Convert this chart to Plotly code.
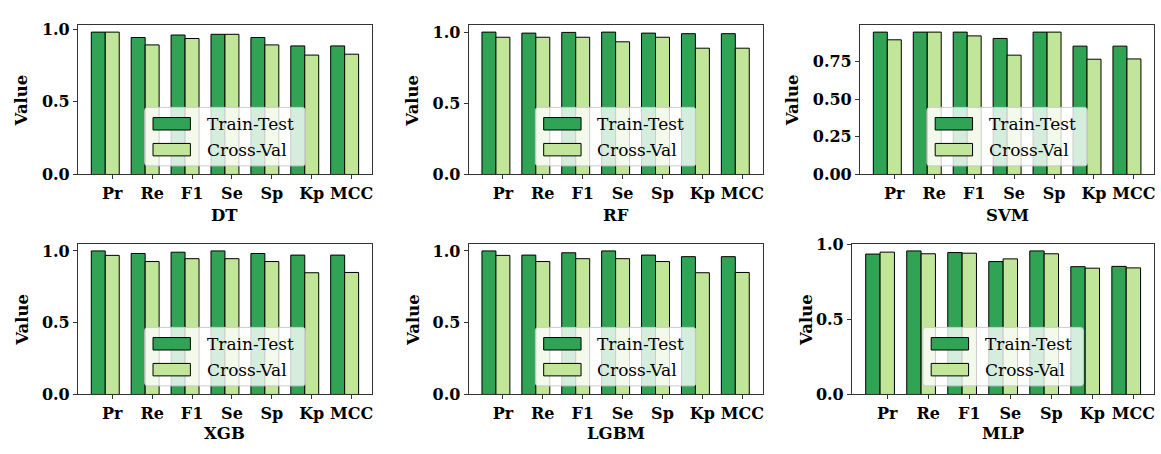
import plotly.graph_objects as go

categories = ["Pr", "Re", "F1", "Se", "Sp", "Kp", "MCC"]
models = ["DT", "RF", "SVM", "XGB", "LGBM", "MLP"]
series_names = ["Train-Test", "Cross-Val"]

dt_train = [0.980, 0.943, 0.960, 0.965, 0.943, 0.885, 0.885]
dt_cv = [0.980, 0.892, 0.936, 0.965, 0.892, 0.822, 0.828]
rf_train = [1.000, 0.993, 0.998, 1.000, 0.993, 0.989, 0.989]
rf_cv = [0.964, 0.964, 0.964, 0.932, 0.964, 0.887, 0.887]
svm_train = [0.945, 0.945, 0.945, 0.903, 0.945, 0.852, 0.852]
svm_cv = [0.894, 0.945, 0.920, 0.792, 0.945, 0.765, 0.767]
xgb_train = [1.000, 0.982, 0.991, 1.000, 0.982, 0.971, 0.971]
xgb_cv = [0.969, 0.926, 0.946, 0.946, 0.926, 0.848, 0.850]
lgbm_train = [1.000, 0.971, 0.987, 1.000, 0.971, 0.960, 0.960]
lgbm_cv = [0.969, 0.926, 0.946, 0.946, 0.926, 0.848, 0.850]
mlp_train = [0.936, 0.957, 0.946, 0.886, 0.957, 0.852, 0.854]
mlp_cv = [0.949, 0.938, 0.942, 0.904, 0.938, 0.842, 0.844]

train_vals = [dt_train, rf_train, svm_train, xgb_train, lgbm_train, mlp_train]
cv_vals = [dt_cv, rf_cv, svm_cv, xgb_cv, lgbm_cv, mlp_cv]

COL_TRAIN = "#31a354"
COL_CV = "#c2e699"
FONT = "DejaVu Serif"

W, H = 1161, 454
# axes boxes in pixels: left, top, right, bottom
boxes = [
    (78, 16.7, 372.3, 172.7),
    (469, 16.7, 763.3, 172.7),
    (860.7, 16.7, 1155.3, 172.7),
    (78, 245, 372.3, 402.3),
    (469, 245, 763.3, 402.3),
    (852.7, 245, 1155.3, 402.3),
]
ytitle_x = [21.7, 413.3, 793.3, 21.7, 413.3, 806.7]
xtitle_y = [215, 215, 215, 443, 443, 443]


def px(x):
    return x / W


def py(y):
    return 1 - y / H


def rrect(x0, y0, x1, y1, r):
    pts = [
        f"M {px(x0 + r)},{py(y0)}",
        f"L {px(x1 - r)},{py(y0)}",
        f"Q {px(x1)},{py(y0)} {px(x1)},{py(y0 + r)}",
        f"L {px(x1)},{py(y1 - r)}",
        f"Q {px(x1)},{py(y1)} {px(x1 - r)},{py(y1)}",
        f"L {px(x0 + r)},{py(y1)}",
        f"Q {px(x0)},{py(y1)} {px(x0)},{py(y1 - r)}",
        f"L {px(x0)},{py(y0 + r)}",
        f"Q {px(x0)},{py(y0)} {px(x0 + r)},{py(y0)}",
        "Z",
    ]
    return " ".join(pts)


fig = go.Figure()
layout = dict(
    width=W,
    height=H,
    margin=dict(l=0, r=0, t=0, b=0),
    paper_bgcolor="white",
    plot_bgcolor="white",
    barmode="overlay",
    showlegend=False,
    font=dict(family=FONT, color="black"),
)
shapes = []
annotations = []

BW = 0.35
for i, (name, tr, cv) in enumerate(zip(models, train_vals, cv_vals)):
    n = i + 1
    xa = "x" if n == 1 else f"x{n}"
    ya = "y" if n == 1 else f"y{n}"
    fig.add_trace(go.Bar(
        x=categories, y=tr, name=series_names[0], offset=-1.5 * BW, width=BW,
        marker=dict(color=COL_TRAIN, line=dict(color="black", width=1)),
        xaxis=xa, yaxis=ya))
    fig.add_trace(go.Bar(
        x=categories, y=cv, name=series_names[1], offset=-0.5 * BW, width=BW,
        marker=dict(color=COL_CV, line=dict(color="black", width=1)),
        xaxis=xa, yaxis=ya))

    l, t, r, b = boxes[i]
    ymax = max(tr + cv) * 1.05
    if ymax < 1.0:
        tv = [0, 0.25, 0.5, 0.75]
        tt = ["0.00", "0.25", "0.50", "0.75"]
    else:
        tv = [0, 0.5, 1.0]
        tt = ["0.0", "0.5", "1.0"]
    axis_common = dict(
        showline=True, mirror=True, linecolor="#333333", linewidth=1,
        ticks="outside", ticklen=4, tickwidth=1, tickcolor="#333333",
        showgrid=False, zeroline=False, ticklabeloverflow="allow",
        tickfont=dict(family=FONT, size=16, weight="bold", color="black"),
    )
    layout["xaxis" if n == 1 else f"xaxis{n}"] = dict(
        domain=[px(l), px(r)], anchor=ya, type="category",
        range=[-0.86, 6.51], **axis_common)
    layout["yaxis" if n == 1 else f"yaxis{n}"] = dict(
        domain=[py(b), py(t)], anchor=xa, range=[0, ymax],
        tickvals=tv, ticktext=tt, **axis_common)

    # axis titles
    cx = (l + r) / 2
    annotations.append(dict(
        text="<b>Value</b>", x=px(ytitle_x[i]), y=py((t + b) / 2 + 1),
        xref="paper", yref="paper", textangle=-90, showarrow=False,
        xanchor="center", yanchor="middle",
        font=dict(family=FONT, size=16.5, color="black")))
    annotations.append(dict(
        text=f"<b>{name}</b>", x=px(cx), y=py(xtitle_y[i]),
        xref="paper", yref="paper", showarrow=False,
        xanchor="center", yanchor="middle",
        font=dict(family=FONT, size=16.5, color="black")))

    # legend box (lower center)
    shapes.append(dict(
        type="path", path=rrect(cx - 80.3, b - 70, cx + 80.3, b - 9, 3),
        xref="paper", yref="paper",
        fillcolor="rgba(255,255,255,0.8)", line=dict(color="#cccccc", width=1),
        layer="above"))
    for k, (col, lab) in enumerate(zip([COL_TRAIN, COL_CV], series_names)):
        y0 = b - 59.4 + k * 27
        shapes.append(dict(
            type="rect", x0=px(cx - 72), x1=px(cx - 34.6),
            y0=py(y0), y1=py(y0 + 13), xref="paper", yref="paper",
            fillcolor=col, line=dict(color="black", width=1), layer="above"))
        annotations.append(dict(
            text=lab, x=px(cx - 20.3), y=py(y0 + 6.5),
            xref="paper", yref="paper", showarrow=False,
            xanchor="left", yanchor="middle",
            font=dict(family=FONT, size=17, color="black")))

layout["shapes"] = shapes
layout["annotations"] = annotations
fig.update_layout(**layout)
fig.write_html("out.html",
               config={"displayModeBar": False},
               post_script="document.body.style.margin='0';")
